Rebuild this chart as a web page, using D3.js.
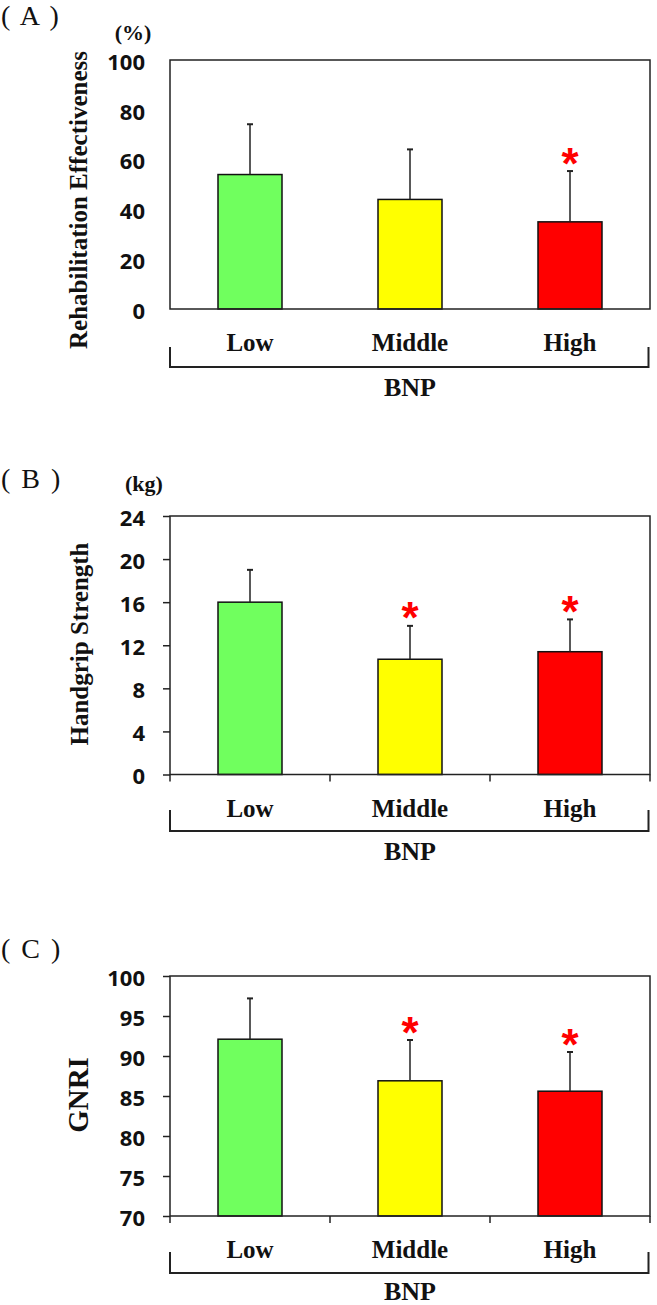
<!DOCTYPE html>
<html>
<head>
<meta charset="utf-8">
<script src="https://cdn.jsdelivr.net/npm/d3@7"></script>
<style>
  html, body { margin: 0; padding: 0; background: #fff; }
  svg { display: block; }
</style>
</head>
<body>
<svg id="chart" width="657" height="1305"></svg>
<script>
// ---------------- DATA ----------------
const categories = ["Low", "Middle", "High"];
const barColors = ["#70ff5e", "#ffff00", "#ff0000"];

const rehabMean = [54, 44, 35];
const rehabSD = [20.2, 20.1, 20.4];
const rehabSig = [false, false, true];
const rehabTicks = [0, 20, 40, 60, 80, 100];

const gripMean = [16.0, 10.7, 11.4];
const gripSD = [3.0, 3.1, 3.0];
const gripSig = [false, true, true];
const gripTicks = [0, 4, 8, 12, 16, 20, 24];

const gnriMean = [92.1, 86.9, 85.6];
const gnriSD = [5.1, 5.1, 4.9];
const gnriSig = [false, true, true];
const gnriTicks = [70, 75, 80, 85, 90, 95, 100];

const panelLetters = ["A", "B", "C"];
const yTitles = ["Rehabilitation Effectiveness", "Handgrip Strength", "GNRI"];
const units = ["(%)", "(kg)", ""];
const groupLabel = "BNP";

// ---------------- LAYOUT ----------------
const svg = d3.select("#chart");
const plotLeft = 170, plotRight = 650;
const serif = "'Liberation Serif', 'Times New Roman', serif";
const sans = "'Open Sans', 'Noto Sans', sans-serif";

const panels = [
  { letter: panelLetters[0], title: yTitles[0], unit: units[0], mean: rehabMean, sd: rehabSD, sig: rehabSig,
    ticks: rehabTicks, top: 60, bottom: 309, showTicks: false,
    letterY: 25, unitX: 133, unitY: 40, titleY: 200, titleSize: 25, titleX: 87,
    labelY: 351, bracketTop: 347, bracketY: 367, bnpY: 396 },
  { letter: panelLetters[1], title: yTitles[1], unit: units[1], mean: gripMean, sd: gripSD, sig: gripSig,
    ticks: gripTicks, top: 516, bottom: 774.5, showTicks: true,
    letterY: 488, unitX: 144, unitY: 491, titleY: 644, titleSize: 25, titleX: 88,
    labelY: 817, bracketTop: 810, bracketY: 831, bnpY: 860 },
  { letter: panelLetters[2], title: yTitles[2], unit: units[2], mean: gnriMean, sd: gnriSD, sig: gnriSig,
    ticks: gnriTicks, top: 976, bottom: 1216, showTicks: true,
    letterY: 958, unitX: 0, unitY: 0, titleY: 1095, titleSize: 29, titleX: 88,
    labelY: 1258, bracketTop: 1252, bracketY: 1273, bnpY: 1300 }
];

const x = d3.scaleBand().domain(categories).range([plotLeft, plotRight]).padding(0);
const barW = x.bandwidth() * 0.4;

panels.forEach(p => {
  const g = svg.append("g");
  const y = d3.scaleLinear().domain([p.ticks[0], p.ticks[p.ticks.length - 1]]).range([p.bottom, p.top]);

  // panel letter
  g.append("text").attr("x", 1).attr("y", p.letterY)
    .attr("font-family", serif).attr("font-size", 28).attr("word-spacing", 4)
    .attr("fill", "#111").text("( " + p.letter + " )");

  // unit
  if (p.unit) {
    g.append("text").attr("x", p.unitX).attr("y", p.unitY).attr("text-anchor", "middle")
      .attr("font-family", serif).attr("font-weight", "bold").attr("font-size", 22)
      .attr("fill", "#111").text(p.unit);
  }

  // y axis title
  g.append("text")
    .attr("transform", `translate(${p.titleX},${p.titleY}) rotate(-90)`)
    .attr("text-anchor", "middle")
    .attr("font-family", serif).attr("font-weight", "bold").attr("font-size", p.titleSize)
    .attr("fill", "#111").text(p.title);

  // y axis
  const tickLen = p.showTicks ? 7 : 0;
  const yAxis = d3.axisLeft(y).tickValues(p.ticks).tickSize(tickLen).tickPadding(25 - tickLen)
    .tickFormat(d3.format("d"));
  const ya = g.append("g").attr("transform", `translate(${plotLeft},0)`).call(yAxis);
  ya.select(".domain").remove();
  ya.selectAll(".tick line").attr("stroke", "#222").attr("stroke-width", 1.5);
  ya.selectAll(".tick text").attr("font-family", sans).attr("font-weight", 700)
    .attr("font-size", 22).attr("fill", "#111").attr("dy", "0.42em");

  // x ticks at band boundaries
  if (p.showTicks) {
    const bounds = categories.map(c => x(c)).concat([x(categories[categories.length - 1]) + x.bandwidth()]);
    g.selectAll(".xtick").data(bounds).enter().append("line")
      .attr("x1", d => d).attr("x2", d => d)
      .attr("y1", p.bottom).attr("y2", p.bottom + 7)
      .attr("stroke", "#222").attr("stroke-width", 1.5);
  }

  // bars
  g.selectAll(".bar").data(categories).enter().append("rect")
    .attr("x", c => x(c) + (x.bandwidth() - barW) / 2)
    .attr("y", (c, i) => y(p.mean[i]))
    .attr("width", barW)
    .attr("height", (c, i) => p.bottom - y(p.mean[i]))
    .attr("fill", (c, i) => barColors[i])
    .attr("stroke", "#111").attr("stroke-width", 1.5);

  // error bars (upper only)
  categories.forEach((c, i) => {
    const cx = x(c) + x.bandwidth() / 2;
    const yTop = y(p.mean[i] + p.sd[i]);
    g.append("line").attr("x1", cx).attr("x2", cx)
      .attr("y1", y(p.mean[i])).attr("y2", yTop)
      .attr("stroke", "#222").attr("stroke-width", 1.5);
    g.append("line").attr("x1", cx - 3).attr("x2", cx + 3)
      .attr("y1", yTop).attr("y2", yTop)
      .attr("stroke", "#222").attr("stroke-width", 2);
    if (p.sig[i]) {
      g.append("text").attr("x", cx).attr("y", yTop - 13.5 + 21)
        .attr("text-anchor", "middle")
        .attr("font-family", "'Liberation Sans', Arial, sans-serif").attr("font-weight", "bold")
        .attr("font-size", 44).attr("fill", "#ff0000").text("*");
    }
  });

  // frame
  g.append("rect").attr("x", plotLeft).attr("y", p.top)
    .attr("width", plotRight - plotLeft).attr("height", p.bottom - p.top)
    .attr("fill", "none").attr("stroke", "#222").attr("stroke-width", 1.5);

  // category labels
  g.selectAll(".cat").data(categories).enter().append("text")
    .attr("x", c => x(c) + x.bandwidth() / 2).attr("y", p.labelY)
    .attr("text-anchor", "middle")
    .attr("font-family", serif).attr("font-weight", "bold").attr("font-size", 25)
    .attr("fill", "#111").text(c => c);

  // bracket
  g.append("path")
    .attr("d", `M${plotLeft},${p.bracketTop}V${p.bracketY}H${plotRight - 1.5}V${p.bracketTop}`)
    .attr("fill", "none").attr("stroke", "#222").attr("stroke-width", 2);

  // group label
  g.append("text").attr("x", (plotLeft + plotRight) / 2).attr("y", p.bnpY)
    .attr("text-anchor", "middle")
    .attr("font-family", serif).attr("font-weight", "bold").attr("font-size", 26)
    .attr("fill", "#111").text(groupLabel);
});
</script>
</body>
</html>
